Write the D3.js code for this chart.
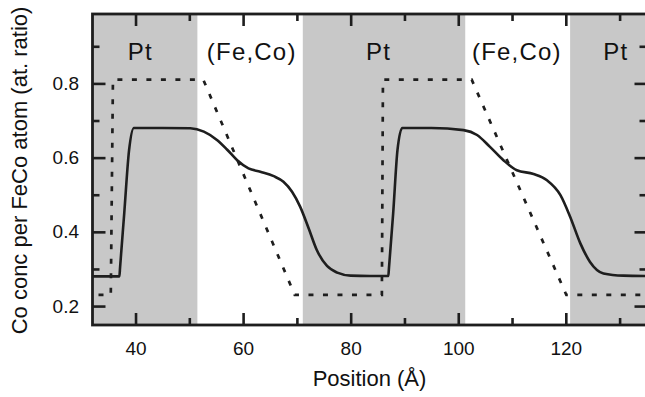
<!DOCTYPE html>
<html>
<head>
<meta charset="utf-8">
<script src="https://cdn.jsdelivr.net/npm/d3@7"></script>
<style>
  html, body { margin: 0; padding: 0; background: #fff; }
  svg { display: block; font-family: "Liberation Sans", Arial, Helvetica, sans-serif; }
</style>
</head>
<body>
<svg id="chart" width="645" height="397"></svg>
<script>
// Co fraction across the Pt / (Fe,Co) multilayer
const xMajorTicks = [40, 60, 80, 100, 120];
const xMinorTicks = [50, 70, 90, 110, 130];
const yMajorTicks = [0.2, 0.4, 0.6, 0.8];
const yMinorTicks = [0.3, 0.5, 0.7, 0.9];

// Pt layers (shaded), start / end in Å
const ptStart = [32, 71.1, 120.8];
const ptEnd   = [51.5, 101.3, 135];

// layer names and where they sit along the stack (Å)
const layerNames = ["Pt", "(Fe,Co)", "Pt", "(Fe,Co)", "Pt"];
const layerAt    = [40.9, 61.6, 85.2, 110.9, 129.3];

// measured profile (solid)
const profileX = [32, 37.0, 37.12, 37.9, 38.8, 39.7, 45, 50.2, 52.7, 55.2, 57.0, 58.9, 61.0, 63.2, 65.7, 67.5, 69.1, 70.6, 72.2, 73.7, 75.6, 77.5, 80.0, 83.6,
                  87.0, 87.12, 87.9, 88.7, 89.6, 95, 101.0, 103.5, 105.9, 108.4, 110.9, 114.0, 116.5, 119.0, 120.8, 122.7, 124.5, 127.0, 130.7, 135];
const profileY = [0.28, 0.28, 0.303, 0.45, 0.62, 0.68, 0.68, 0.679, 0.670, 0.647, 0.622, 0.593, 0.571, 0.562, 0.550, 0.535, 0.508, 0.468, 0.409, 0.351, 0.308, 0.290, 0.282, 0.281,
                  0.281, 0.303, 0.45, 0.62, 0.68, 0.68, 0.674, 0.661, 0.629, 0.593, 0.566, 0.556, 0.539, 0.499, 0.441, 0.369, 0.319, 0.288, 0.282, 0.281];

// nominal profile (dotted)
const nominalX = [32, 35.4, 35.8, 52.6, 69.6, 85.8, 86.0, 102.5, 120.1, 135];
const nominalY = [0.23, 0.23, 0.81, 0.81, 0.23, 0.23, 0.81, 0.81, 0.23, 0.23];

const svg = d3.select("#chart");
const plotLeft = 92.5, plotRight = 646.5, plotTop = 14, plotBottom = 325;
const ink = "#1e1e1e";

const x = d3.scaleLinear().domain([32, 135]).range([plotLeft, plotRight]);
const y = d3.scaleLinear().domain([0.149, 0.987]).range([plotBottom, plotTop]);

svg.append("defs").append("clipPath").attr("id", "plot")
  .append("rect").attr("x", plotLeft).attr("y", plotTop)
  .attr("width", plotRight - plotLeft).attr("height", plotBottom - plotTop);

// shaded Pt layers
svg.append("g").selectAll("rect")
  .data(ptStart.map((s, i) => [s, ptEnd[i]]))
  .join("rect")
  .attr("x", d => x(d[0]))
  .attr("width", d => x(d[1]) - x(d[0]))
  .attr("y", plotTop)
  .attr("height", plotBottom - plotTop)
  .attr("fill", "#c8c8c8");

// layer names
svg.append("g").selectAll("text")
  .data(layerNames)
  .join("text")
  .attr("x", (d, i) => x(layerAt[i]))
  .attr("y", 60)
  .attr("text-anchor", "middle")
  .attr("font-size", 24)
  .attr("letter-spacing", "1.2px")
  .attr("fill", "#111")
  .text(d => d);

const plot = svg.append("g").attr("clip-path", "url(#plot)");

// nominal profile
plot.append("path")
  .datum(nominalX.map((v, i) => [v, nominalY[i]]))
  .attr("fill", "none")
  .attr("stroke", ink)
  .attr("stroke-width", 2.7)
  .attr("stroke-dasharray", "5,9.5")
  .attr("stroke-dashoffset", -6)
  .attr("d", d3.line().x(d => x(d[0])).y(d => y(d[1])));

// measured profile
plot.append("path")
  .datum(profileX.map((v, i) => [v, profileY[i]]))
  .attr("fill", "none")
  .attr("stroke", ink)
  .attr("stroke-width", 2.6)
  .attr("stroke-linejoin", "round")
  .attr("d", d3.line().curve(d3.curveMonotoneX).x(d => x(d[0])).y(d => y(d[1])));

// inward-pointing ticks on all four sides
function ticks(axis, values, size, labels) {
  return axis.tickValues(values).tickSizeInner(-size).tickSizeOuter(0).tickPadding(labels ? 18 : 0)
    .tickFormat(labels ? d3.format(labels) : () => "");
}
function styleAxis(g) {
  g.select(".domain").remove();
  g.selectAll(".tick line").attr("stroke", ink).attr("stroke-width", 2.6);
  g.selectAll(".tick text").attr("fill", "#111").attr("font-size", 19)
    .attr("font-family", "Liberation Sans, Arial, sans-serif");
}

svg.append("g").attr("transform", `translate(0,${plotBottom})`)
  .call(ticks(d3.axisBottom(x), xMajorTicks, 12, "d")).call(styleAxis)
  .selectAll(".tick text").attr("dy", "0.71em").attr("y", 17);
svg.append("g").attr("transform", `translate(0,${plotBottom})`)
  .call(ticks(d3.axisBottom(x), xMinorTicks, 7, null)).call(styleAxis);
svg.append("g").attr("transform", `translate(0,${plotTop})`)
  .call(ticks(d3.axisTop(x), xMajorTicks, 12, null)).call(styleAxis);
svg.append("g").attr("transform", `translate(0,${plotTop})`)
  .call(ticks(d3.axisTop(x), xMinorTicks, 7, null)).call(styleAxis);

svg.append("g").attr("transform", `translate(${plotLeft},0)`)
  .call(ticks(d3.axisLeft(y), yMajorTicks, 13, ".1f")).call(styleAxis)
  .selectAll(".tick text").attr("x", -13.5);
svg.append("g").attr("transform", `translate(${plotLeft},0)`)
  .call(ticks(d3.axisLeft(y), yMinorTicks, 7, null)).call(styleAxis);
svg.append("g").attr("transform", `translate(${plotRight},0)`)
  .call(ticks(d3.axisRight(y), yMajorTicks, 12, null)).call(styleAxis);
svg.append("g").attr("transform", `translate(${plotRight},0)`)
  .call(ticks(d3.axisRight(y), yMinorTicks, 7, null)).call(styleAxis);

// frame
svg.append("rect")
  .attr("x", plotLeft).attr("y", plotTop)
  .attr("width", plotRight - plotLeft).attr("height", plotBottom - plotTop)
  .attr("fill", "none").attr("stroke", ink).attr("stroke-width", 2.8);

// axis titles
svg.append("text")
  .attr("x", (plotLeft + plotRight) / 2).attr("y", 386)
  .attr("text-anchor", "middle").attr("font-size", 22).attr("fill", "#111")
  .text("Position (Å)");

svg.append("text")
  .attr("transform", "translate(27,170.5) rotate(-90)")
  .attr("text-anchor", "middle").attr("font-size", 22).attr("fill", "#111")
  .text("Co conc per FeCo atom (at. ratio)");
</script>
</body>
</html>
